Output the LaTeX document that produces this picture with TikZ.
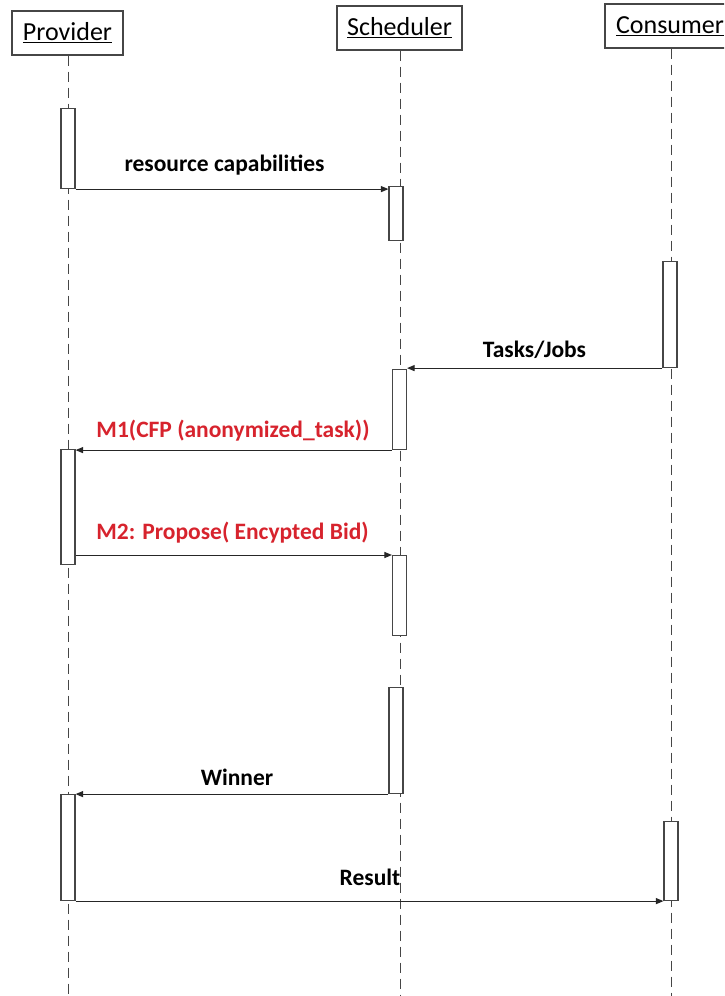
\documentclass[tikz,border=0pt]{standalone}
\usepackage{fontspec}
\setmainfont{Carlito}
\usetikzlibrary{arrows.meta}
\definecolor{msgred}{RGB}{215,35,45}
\definecolor{linegray}{RGB}{70,70,70}
\begin{document}
\begin{tikzpicture}[x=1pt,y=-1pt,
  hdr/.style={draw=linegray, line width=1.1pt, inner sep=0pt, minimum height=44pt, font=\fontsize{26}{31}\selectfont},
  life/.style={draw=linegray, dash pattern=on 10pt off 6pt, line width=0.9pt},
  bar/.style={draw=linegray, fill=white, line width=1.1pt, minimum width=14pt, inner sep=0pt, anchor=north},
  msg/.style={draw=black!85, line width=1pt, -{Triangle[length=7.5pt,width=6pt]}},
  lbl/.style={font=\bfseries\fontsize{23.5}{28}\selectfont, anchor=base, inner sep=0pt},
  redlbl/.style={lbl, text=msgred}]
\useasboundingbox (0,0) rectangle (724,996);
\clip (0,0) rectangle (724,996);

% headers
\node[hdr, minimum width=111pt] (prov) at (67.5,33) {\underline{Provider}};
\node[hdr, minimum width=125pt] (sched) at (399.5,28) {\underline{Scheduler}};
\node[hdr, minimum width=130pt] (cons) at (670,26) {\underline{Consumer}};

% lifeline ends
\coordinate (provEnd) at (68,996);
\coordinate (schedEnd) at (400,996);
\coordinate (consEnd) at (671,996);
\draw[life] (prov.south -| provEnd) -- (provEnd);
\draw[life] (sched.south -| schedEnd) -- (schedEnd);
\draw[life] (cons.south -| consEnd) -- (consEnd);

% activation bars
\node[bar, minimum height=80pt]  (p1) at (68,108) {};
\node[bar, minimum height=54pt]  (s1) at (396,186) {};
\node[bar, minimum height=106pt] (c1) at (670,261) {};
\node[bar, minimum height=80pt]  (s2) at (399.5,369) {};
\node[bar, minimum height=115pt] (p2) at (68,449) {};
\node[bar, minimum height=80pt]  (s3) at (399.5,555) {};
\node[bar, minimum height=106pt] (s4) at (396,687) {};
\node[bar, minimum height=106pt] (p3) at (68,794) {};
\node[bar, minimum height=79pt]  (c2) at (671,821) {};

% messages
\draw[msg] (p1.south east) -- (p1.south east -| s1.west);
\draw[msg] (c1.south west) -- (c1.south west -| s2.east);
\draw[msg] (s2.south west) -- (s2.south west -| p2.east);
\draw[msg] (p2.east |- s3.north) -- (s3.north west);
\draw[msg] (s4.south west) -- (s4.south west -| p3.east);
\draw[msg] (p3.south east) -- (p3.south east -| c2.west);

% labels
\node[lbl] (l1) at (224.5,171) {resource capabilities};
\node[lbl] (l2) at (534.5,357) {Tasks/Jobs};
\node[redlbl] (l3) at (233,437) {M1(CFP (anonymized\_task))};
\node[redlbl] (l4) at (232.5,539) {M2: Propose( Encypted Bid)};
\node[lbl] (l5) at (237,785) {Winner};
\node[lbl] (l6) at (370,885) {Result};
\end{tikzpicture}
\end{document}
